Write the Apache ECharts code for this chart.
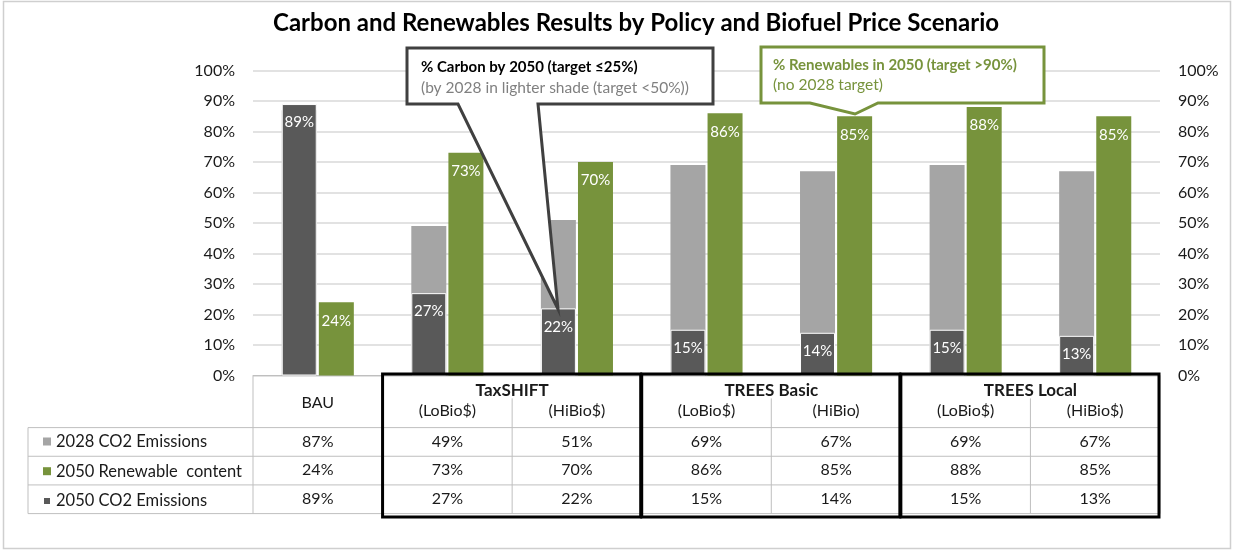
<!DOCTYPE html>
<html><head><meta charset="utf-8">
<script src="https://cdn.jsdelivr.net/npm/echarts@6/dist/echarts.min.js"></script>
<style>html,body{margin:0;padding:0;background:#fff}#c{width:1233px;height:550px}</style>
</head><body><div id="c"></div>
<script>
// ---------- data ----------
const titleText = 'Carbon and Renewables Results by Policy and Biofuel Price Scenario';
const categories = ['BAU', 'TaxSHIFT LoBio$', 'TaxSHIFT HiBio$', 'TREES Basic LoBio$', 'TREES Basic HiBio', 'TREES Local LoBio$', 'TREES Local HiBio$'];
const headerLabels = ['BAU', '(LoBio$)', '(HiBio$)', '(LoBio$)', '(HiBio)', '(LoBio$)', '(HiBio$)'];
const groupNames = ['TaxSHIFT', 'TREES Basic', 'TREES Local'];
const groupFirstCol = [1, 3, 5];
const seriesNames = ['2028 CO2 Emissions', '2050 Renewable  content', '2050 CO2 Emissions'];
const co2_2028 = [87, 49, 51, 69, 67, 69, 67];
const renew_2050 = [24, 73, 70, 86, 85, 88, 85];
const co2_2050 = [89, 27, 22, 15, 14, 15, 13];
const callCarbon1 = '% Carbon by 2050 (target \u226425%)';
const callCarbon2 = '(by 2028 in lighter shade (target <50%))';
const callRenew1 = '% Renewables in 2050 (target >90%)';
const callRenew2 = '(no 2028 target)';

// ---------- style ----------
const FONT = 'Lato';
const LIGHT = '#A5A5A5', DARK = '#595959', GREEN = '#77933C', TXT = '#1a1a1a';
const rows = [co2_2028, renew_2050, co2_2050];

// table cells (text) built from arrays
const cells = [];
headerLabels.forEach((t, c) => cells.push({ col: c, y: c === 0 ? 0.92 : 1.2, text: t, bold: false, group: false }));
groupNames.forEach((t, g) => cells.push({ col: groupFirstCol[g], y: 0.5, text: t, bold: true, group: true }));
rows.forEach((arr, r) => arr.forEach((v, c) => cells.push({ col: c, y: 2.28 + r, text: v + '%', bold: false, group: false })));

const chart = echarts.init(document.getElementById('c'));

function renderCell(params, api) {
  const cell = cells[params.dataIndex];
  const p = api.coord([cell.col, cell.y]);
  const band = api.size([1, 0])[0];
  const x = cell.group ? p[0] + band / 2 : p[0];
  return {
    type: 'text',
    style: {
      x: x, y: p[1], text: cell.text, align: 'center', verticalAlign: 'middle',
      fill: TXT, font: (cell.bold ? 'bold ' : '') + (cell.bold ? 17 : 16) + 'px ' + FONT
    }
  };
}

function renderLines(params, api) {
  const cs = params.coordSys;
  const band = api.size([1, 0])[0];
  const X = i => (i >= categories.length ? cs.x + cs.width : api.coord([i, 0])[0] - band / 2);
  const Y = v => api.coord([0, v])[1];
  const thin = { stroke: '#BFBFBF', lineWidth: 1 };
  const kids = [];
  const ln = (x1, y1, x2, y2, st) => kids.push({ type: 'line', shape: { x1, y1, x2, y2 }, style: st });
  const leftX = cs.x - 225;
  [1.8, 2.8, 3.8, 4.8].forEach(v => ln(leftX, Y(v), cs.x + cs.width, Y(v), thin));
  ln(leftX, Y(1.8), leftX, Y(4.8), thin);
  for (let i = 0; i <= categories.length; i++) {
    const inner = (i === 2 || i === 4 || i === 6);
    ln(X(i), Y(inner ? 0.78 : 0), X(i), Y(4.8), thin);
  }
  groupFirstCol.forEach(c => {
    kids.push({
      type: 'rect',
      shape: { x: X(c), y: Y(-0.07), width: X(c + 2) - X(c) - 1, height: Y(4.92) - Y(-0.07) },
      style: { fill: null, stroke: '#000', lineWidth: 3 }
    });
  });
  return { type: 'group', children: kids };
}

const axisLabelStyle = { fontFamily: FONT, fontSize: 16, color: TXT };
const barLabel = { show: true, position: 'insideTop', distance: 11, formatter: '{c}%', color: '#fff', fontFamily: FONT, fontSize: 15 };

chart.setOption({
  animation: false,
  textStyle: { fontFamily: FONT },
  title: {
    text: titleText, left: 268, top: 6,
    textStyle: { fontFamily: FONT, fontWeight: 'bold', fontSize: 24, color: '#000' }
  },
  legend: {
    data: seriesNames, orient: 'vertical', left: 37, top: 428,
    itemWidth: 8, itemHeight: 8, itemGap: 12.7, icon: 'rect', selectedMode: false,
    textStyle: { fontFamily: FONT, fontSize: 16.5, lineHeight: 16, color: TXT }
  },
  grid: [
    { left: 253, right: 73, top: 70.5, height: 305 },
    { left: 253, right: 73, top: 376, height: 137.6 }
  ],
  xAxis: [
    { type: 'category', gridIndex: 0, data: categories, axisLine: { lineStyle: { color: '#BFBFBF' } }, axisTick: { show: false }, axisLabel: { show: false } },
    { type: 'category', gridIndex: 0, data: categories, show: false },
    { type: 'category', gridIndex: 1, data: categories, show: false }
  ],
  yAxis: [
    { type: 'value', gridIndex: 0, min: 0, max: 100, interval: 10, position: 'left',
      axisLabel: Object.assign({ formatter: '{value}%', margin: 18 }, axisLabelStyle),
      axisLine: { show: false }, axisTick: { show: false },
      splitLine: { lineStyle: { color: '#D9D9D9', width: 1.5 } } },
    { type: 'value', gridIndex: 0, min: 0, max: 100, interval: 10, position: 'right',
      axisLabel: Object.assign({ formatter: '{value}%', margin: 18 }, axisLabelStyle),
      axisLine: { show: false }, axisTick: { show: false }, splitLine: { show: false } },
    { type: 'value', gridIndex: 1, min: 0, max: 4.8, inverse: true, show: false }
  ],
  series: [
    { name: seriesNames[0], type: 'bar', xAxisIndex: 1, yAxisIndex: 0, data: co2_2028,
      barWidth: 35, barGap: '6%', itemStyle: { color: LIGHT }, z: 2 },
    { name: 'slot', type: 'bar', xAxisIndex: 1, yAxisIndex: 0, data: [],
      barWidth: 35, barGap: '6%', z: 2 },
    { name: seriesNames[2], type: 'bar', xAxisIndex: 0, yAxisIndex: 0, data: co2_2050,
      barWidth: 35, barGap: '6%', itemStyle: { color: DARK, borderColor: '#fff', borderWidth: 1 }, z: 3,
      label: barLabel },
    { name: seriesNames[1], type: 'bar', xAxisIndex: 0, yAxisIndex: 0, data: renew_2050,
      barWidth: 35, barGap: '6%', itemStyle: { color: GREEN }, z: 3,
      label: barLabel },
    { type: 'custom', name: 'tableLines', xAxisIndex: 2, yAxisIndex: 2, data: [[0, 0]], clip: false,
      renderItem: renderLines, silent: true, z: 4 },
    { type: 'custom', name: 'tableText', xAxisIndex: 2, yAxisIndex: 2, data: cells.map(c => [c.col, c.y]), clip: false,
      renderItem: renderCell, silent: true, z: 5 }
  ],
  graphic: [
    { type: 'rect', shape: { x: 3.5, y: 1.5, width: 1227, height: 547 }, style: { fill: null, stroke: '#CFCFCF', lineWidth: 1.5 }, z: -10, silent: true },
    { type: 'polygon', z: 50, shape: { points: [[407, 48], [713, 48], [713, 104], [538, 104], [558, 309], [458, 104], [407, 104]] },
      style: { fill: '#fff', stroke: '#404040', lineWidth: 3, lineJoin: 'miter' } },
    { type: 'text', z: 51, style: { x: 421, y: 67, text: callCarbon1, verticalAlign: 'middle', fill: '#000', font: 'bold 15px ' + FONT } },
    { type: 'text', z: 51, style: { x: 421, y: 88, text: callCarbon2, verticalAlign: 'middle', fill: '#808080', font: '15.5px ' + FONT } },
    { type: 'polygon', z: 50, shape: { points: [[761, 47], [1044, 47], [1044, 103], [878, 103], [855, 114], [810, 103], [761, 103]] },
      style: { fill: '#fff', stroke: GREEN, lineWidth: 3, lineJoin: 'miter' } },
    { type: 'text', z: 51, style: { x: 773, y: 65, text: callRenew1, verticalAlign: 'middle', fill: GREEN, font: 'bold 15px ' + FONT } },
    { type: 'text', z: 51, style: { x: 773, y: 85, text: callRenew2, verticalAlign: 'middle', fill: GREEN, font: '15.5px ' + FONT } }
  ]
});
</script>
</body></html>
